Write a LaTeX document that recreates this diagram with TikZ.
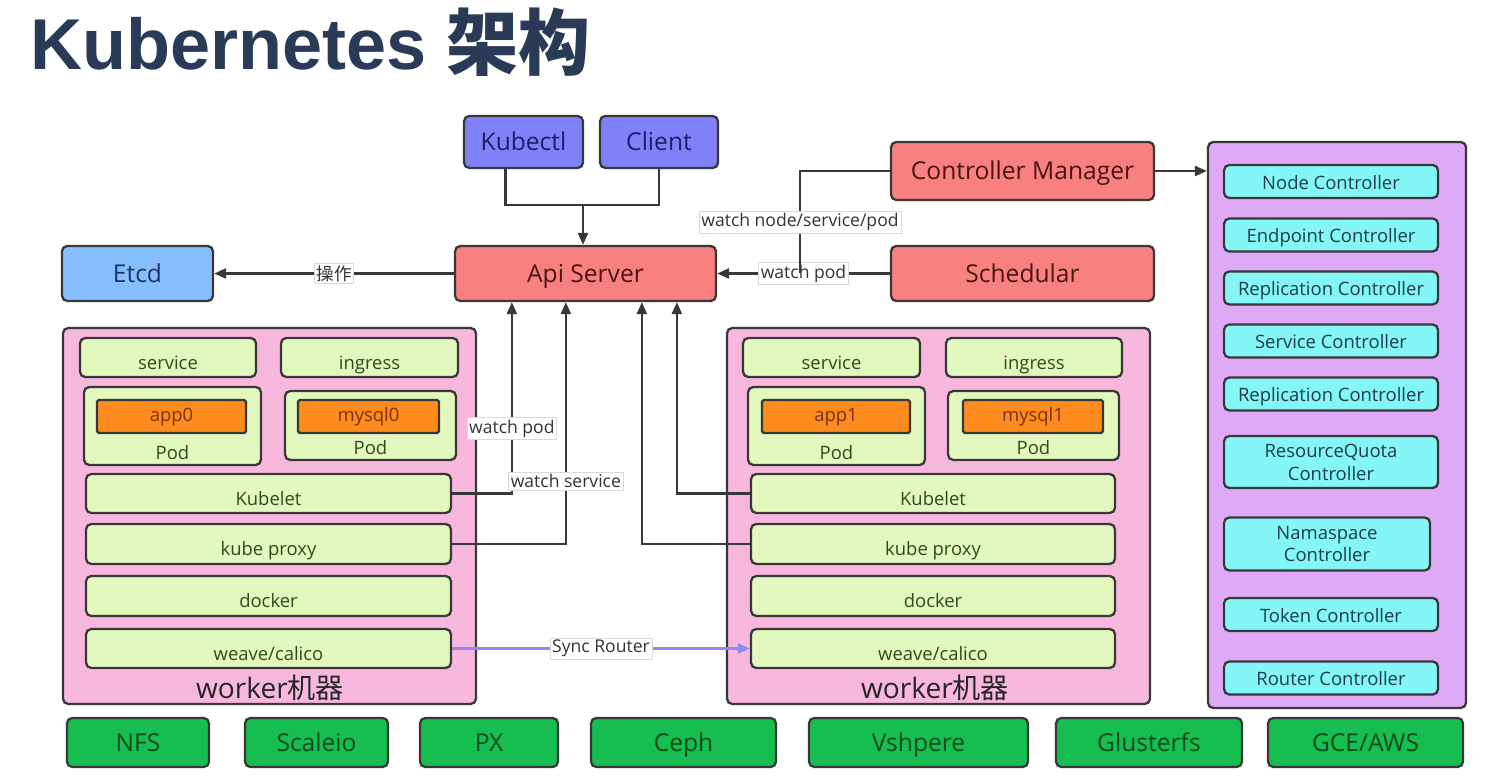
\documentclass[tikz,border=0pt]{standalone}
\usepackage{fontspec}
\setmainfont{Open Sans}
\newfontfamily\cjk{Noto Sans CJK SC}
\newfontfamily\titlefont{Liberation Sans}
\usetikzlibrary{arrows.meta,calc}
\definecolor{ink}{HTML}{383838}
\definecolor{titleblue}{HTML}{2B3B57}
\definecolor{clientbg}{HTML}{8080F8}
\definecolor{clienttxt}{HTML}{1E1E6E}
\definecolor{masterbg}{HTML}{F88080}
\definecolor{mastertxt}{HTML}{4A1414}
\definecolor{etcdbg}{HTML}{86BEFF}
\definecolor{etcdtxt}{HTML}{1C3566}
\definecolor{workerbg}{HTML}{F8B8DE}
\definecolor{layerbg}{HTML}{E2F8BE}
\definecolor{layertxt}{HTML}{2E4A1C}
\definecolor{appbg}{HTML}{FF8A1E}
\definecolor{apptxt}{HTML}{7A3300}
\definecolor{ctrlbg}{HTML}{DEAAF6}
\definecolor{ctrlitem}{HTML}{84F6F6}
\definecolor{ctrltxt}{HTML}{1C3C4C}
\definecolor{storebg}{HTML}{16BE50}
\definecolor{storetxt}{HTML}{0B4A1C}
\definecolor{syncline}{HTML}{8C8CF0}
\tikzset{
  sz/.style 2 args={minimum width=#1*0.02cm,minimum height=#2*0.02cm},
  box/.style={draw=ink,line width=1.3pt,rounded corners=3pt,inner sep=0pt,
              align=center},
  bigbox/.style={box,font=\fontsize{14}{17}\selectfont,
                 text height=12pt,text depth=2pt},
  clientbox/.style={bigbox,fill=clientbg,text=clienttxt},
  masterbox/.style={bigbox,fill=masterbg,text=mastertxt},
  etcdbox/.style={bigbox,fill=etcdbg,text=etcdtxt},
  storebox/.style={bigbox,fill=storebg,text=storetxt},
  workerpanel/.style={box,fill=workerbg},
  ctrlpanel/.style={box,fill=ctrlbg},
  layer/.style={box,fill=layerbg,text=layertxt,
                font=\fontsize{10.5}{12}\selectfont,
                text height=0.48cm,text depth=0pt},
  appbox/.style={box,fill=appbg,text=apptxt,rounded corners=1pt,
                 font=\fontsize{10.5}{12}\selectfont,
                 text height=8pt,text depth=2pt},
  ctrlbox/.style={box,fill=ctrlitem,text=ctrltxt,
                  font=\fontsize{10.5}{13}\selectfont},
  ctrlone/.style={ctrlbox,text height=9pt,text depth=0pt},
  wlabel/.style={font=\fontsize{16}{19}\selectfont,text=black!85},
  lbl/.style={fill=white,draw=black!15,line width=0.3pt,inner sep=1.2pt,
              font=\fontsize{10}{12}\selectfont,text=black!80},
  conn/.style={draw=ink,line width=1.4pt},
  arr/.style={conn,-{Triangle[length=2.4mm,width=2mm]}},
  syncarr/.style={draw=syncline,line width=1.4pt,
                  -{Triangle[length=2.4mm,width=2mm]}}
}
\begin{document}
\begin{tikzpicture}[x=0.02cm,y=-0.02cm]
  \useasboundingbox (0,0) rectangle (1507,783);
  \node[anchor=base west,inner sep=0pt,text=titleblue] (title) at (30,70)
    {\titlefont\bfseries\fontsize{41}{48}\selectfont Kubernetes {\cjk 架构}};

  % master side
  \node[clientbox,sz={119}{52}] (kubectl) at (523.5,142) {Kubectl};
  \node[clientbox,sz={118}{52}] (client) at (659,142) {Client};
  \node[masterbox,sz={261}{55}] (api) at (585.5,273.5) {Api Server};
  \node[masterbox,sz={263}{58}] (cm) at (1022.5,171) {Controller Manager};
  \node[masterbox,sz={263}{55}] (sched) at (1022.5,273.5) {Schedular};
  \node[etcdbox,sz={151}{55}] (etcd) at (137.5,273.5) {Etcd};

  % worker 0
  \node[workerpanel,sz={413}{376}] (w0) at (269.5,516) {};
  \node[layer,sz={176}{39}] (svc0) at (168,357.5) {service};
  \node[layer,sz={177}{39}] (ing0) at (369.5,357.5) {ingress};
  \node[layer,sz={177}{78},text height=1.36cm] (pod0a) at (172.5,426) {Pod};
  \node[appbox,sz={149}{33}] (app0) at (171.5,416.5) {app0};
  \node[layer,sz={171}{69},text height=1.18cm] (pod0b) at (370.5,425.5) {Pod};
  \node[appbox,sz={141}{33}] (mysql0) at (368.5,416.5) {mysql0};
  \node[layer,sz={365}{39}] (kubelet0) at (268.5,493.5) {Kubelet};
  \node[layer,sz={365}{40}] (proxy0) at (268.5,544) {kube proxy};
  \node[layer,sz={365}{40}] (docker0) at (268.5,596) {docker};
  \node[layer,sz={365}{39}] (net0) at (268.5,648.5) {weave/calico};
  \node[wlabel] (wl0) at (270,688) {worker{\cjk 机器}};

  % worker 1
  \node[workerpanel,sz={423}{376}] (w1) at (938.5,516) {};
  \node[layer,sz={177}{39}] (svc1) at (831.5,357.5) {service};
  \node[layer,sz={176}{39}] (ing1) at (1034,357.5) {ingress};
  \node[layer,sz={177}{78},text height=1.36cm] (pod1a) at (836.5,426) {Pod};
  \node[appbox,sz={148}{33}] (app1) at (836,416.5) {app1};
  \node[layer,sz={171}{69},text height=1.18cm] (pod1b) at (1033.5,425.5) {Pod};
  \node[appbox,sz={140}{33}] (mysql1) at (1033,416.5) {mysql1};
  \node[layer,sz={364}{39}] (kubelet1) at (933,493.5) {Kubelet};
  \node[layer,sz={364}{40}] (proxy1) at (933,544) {kube proxy};
  \node[layer,sz={364}{40}] (docker1) at (933,596) {docker};
  \node[layer,sz={364}{39}] (net1) at (933,648.5) {weave/calico};
  \node[wlabel] (wl1) at (935,688) {worker{\cjk 机器}};

  % controllers
  \node[ctrlpanel,sz={258}{566}] (ctrl) at (1337,425) {};
  \node[ctrlone,sz={214}{33}] (nodec) at (1331,181.5) {Node Controller};
  \node[ctrlone,sz={214}{33}] (endpc) at (1331,235) {Endpoint Controller};
  \node[ctrlone,sz={214}{33}] (repc) at (1331,288) {Replication Controller};
  \node[ctrlone,sz={214}{33}] (svcc) at (1331,341) {Service Controller};
  \node[ctrlone,sz={214}{33}] (repcb) at (1331,394) {Replication Controller};
  \node[ctrlbox,sz={214}{52}] (quotac) at (1331,462) {ResourceQuota\\Controller};
  \node[ctrlbox,sz={206}{53}] (nsc) at (1327,544) {Namaspace\\Controller};
  \node[ctrlone,sz={214}{33}] (tokc) at (1331,614.5) {Token Controller};
  \node[ctrlone,sz={214}{33}] (routc) at (1331,678) {Router Controller};

  % storage
  \node[storebox,sz={142}{49}] (nfs) at (138,742.5) {NFS};
  \node[storebox,sz={143}{49}] (scaleio) at (316.5,742.5) {Scaleio};
  \node[storebox,sz={138}{49}] (px) at (489,742.5) {PX};
  \node[storebox,sz={185}{49}] (ceph) at (683.5,742.5) {Ceph};
  \node[storebox,sz={219}{49}] (vsphere) at (918.5,742.5) {Vshpere};
  \node[storebox,sz={186}{49}] (gluster) at (1149,742.5) {Glusterfs};
  \node[storebox,sz={195}{49}] (cloud) at (1365.5,742.5) {GCE/AWS};

  % connectors
  \coordinate (cjoin) at (583,205);
  \coordinate (cmjoin) at (800,273.5);
  \draw[conn] ($(kubectl.south)+(-18,0)$) |- (cjoin) -| (client.south);
  \draw[arr] (cjoin) -- (cjoin |- api.north);
  \draw[arr] (api.west) -- node[lbl]{\cjk 操作} (etcd.east);
  \draw[arr] (sched.west) -- node[lbl]{watch pod} (api.east);
  \draw[conn] (cm.west) -| node[lbl,pos=0.75]{watch node/service/pod} (cmjoin);
  \draw[arr] (cm.east) -- (cm.east -| ctrl.west);
  \draw[arr] (kubelet0.east) -| node[lbl,pos=0.67]{watch pod}
    ($(api.south west)+(58,0)$);
  \draw[arr] (proxy0.east) -| node[lbl,pos=0.63]{watch service}
    ($(api.south west)+(112,0)$);
  \draw[arr] (proxy1.west) -| ($(api.south west)+(188,0)$);
  \draw[arr] (kubelet1.west) -| ($(api.south west)+(223,0)$);
  \draw[syncarr] (net0.east) -- node[lbl]{Sync Router} (net1.west);
\end{tikzpicture}
\end{document}
